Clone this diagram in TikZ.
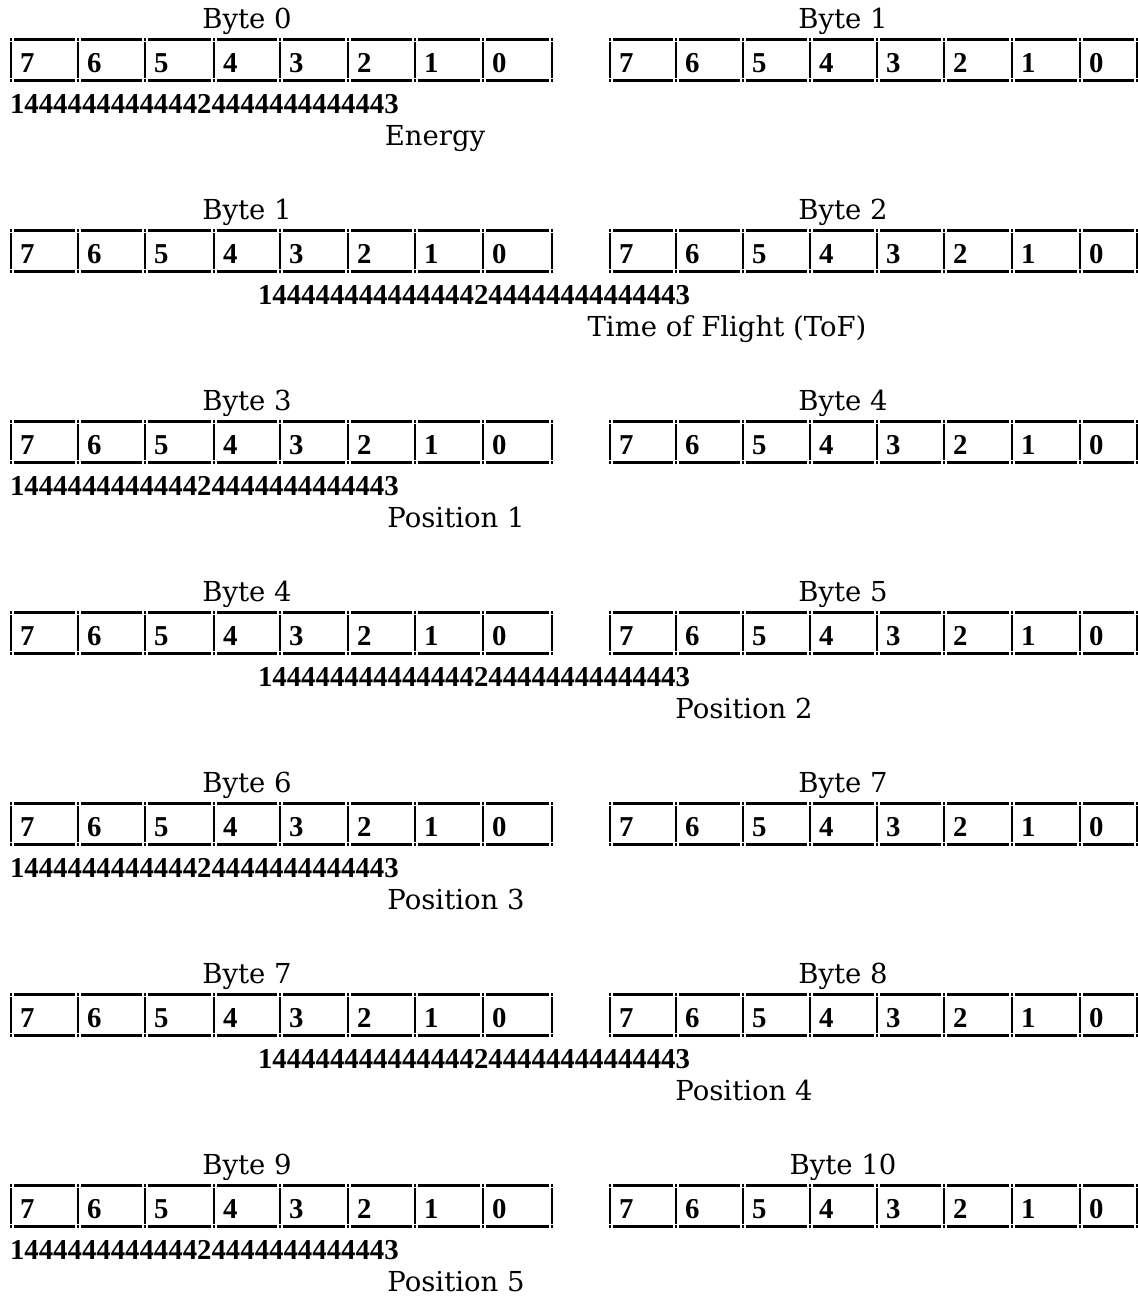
\documentclass[tikz,border=0pt]{standalone}
\usepackage{fontspec}
\setmainfont{DejaVu Serif}
\newfontfamily\numfont{Liberation Serif}
\tikzset{
  txt/.style={inner sep=0pt, outer sep=0pt, font=\fontsize{27.5}{30}\selectfont},
  numtxt/.style={inner sep=0pt, outer sep=0pt, font=\numfont\bfseries\fontsize{28.8}{30}\selectfont},
  bit/.style={numtxt, anchor=base west},
  bytelabel/.style={txt, anchor=base},
  bracetext/.style={numtxt, anchor=base west},
  desclabel/.style={txt, anchor=base},
}
\def\LX{11/78,78/145,145/214,214/280,280/348,348/415,415/483,483/552}
\def\RX{610/676,676/743,743/810,810/877,877/944,944/1012,1012/1080,1080/1137}
% #1 name prefix, #2 cell list, #3 top y
\newcommand\bytetable[3]{%
  \foreach \a/\b [count=\i] in #2 {%
    \pgfmathtruncatemacro\d{8-\i}%
    \pgfmathsetmacro\t{#3}%
    \pgfmathsetmacro\u{#3+41}%
    \fill (\a+2.6,\t-1.5) rectangle (\b-2.6,\t+1.5);
    \fill (\a+2.6,\u-1.5) rectangle (\b-2.6,\u+1.5);
    \fill (\a-1.3,\t+2.6) rectangle (\a+1.3,\u-2.6);
    \fill (\a-1.1,\t-1.1) rectangle (\a+1.1,\t+1.1);
    \fill (\a-1.1,\u-1.1) rectangle (\a+1.1,\u+1.1);
    \ifnum\i=8
      \fill (\b-1.3,\t+2.6) rectangle (\b+1.3,\u-2.6);
      \fill (\b-1.1,\t-1.1) rectangle (\b+1.1,\t+1.1);
      \fill (\b-1.1,\u-1.1) rectangle (\b+1.1,\u+1.1);
    \fi
    \node[bit] (#1-\d) at (\a+9,\t+33) {\d};
  }%
}
\def\braceA{144444444444424444444444443}
\def\braceB{144444444444444244444444444443}
% #1 block index, #2 left byte, #3 right byte, #4 brace (A/B), #5 description, #6 description centre x
\newcommand\byteblock[6]{%
  \pgfmathsetmacro\yo{191*#1}%
  \node[bytelabel] (lab#1L) at (247,\yo+28) {Byte #2};
  \node[bytelabel] (lab#1R) at (843,\yo+28) {Byte #3};
  \bytetable{t#1L}{\LX}{\yo+39.5}
  \bytetable{t#1R}{\RX}{\yo+39.5}
  \if#4A
    \node[bracetext] (br#1) at (10,\yo+113) {\braceA};
  \else
    \node[bracetext] (br#1) at (258,\yo+113) {\braceB};
  \fi
  \node[desclabel] (desc#1) at (#6,\yo+145) {#5};
}
\begin{document}
\begin{tikzpicture}[x=1pt,y=-1pt]
\useasboundingbox[fill=white] (0,0) rectangle (1138,1302);
\byteblock{0}{0}{1}{A}{Energy}{435}
\byteblock{1}{1}{2}{B}{Time of Flight (ToF)}{727}
\byteblock{2}{3}{4}{A}{Position 1}{456}
\byteblock{3}{4}{5}{B}{Position 2}{744}
\byteblock{4}{6}{7}{A}{Position 3}{456}
\byteblock{5}{7}{8}{B}{Position 4}{744}
\byteblock{6}{9}{10}{A}{Position 5}{456}
\end{tikzpicture}
\end{document}
